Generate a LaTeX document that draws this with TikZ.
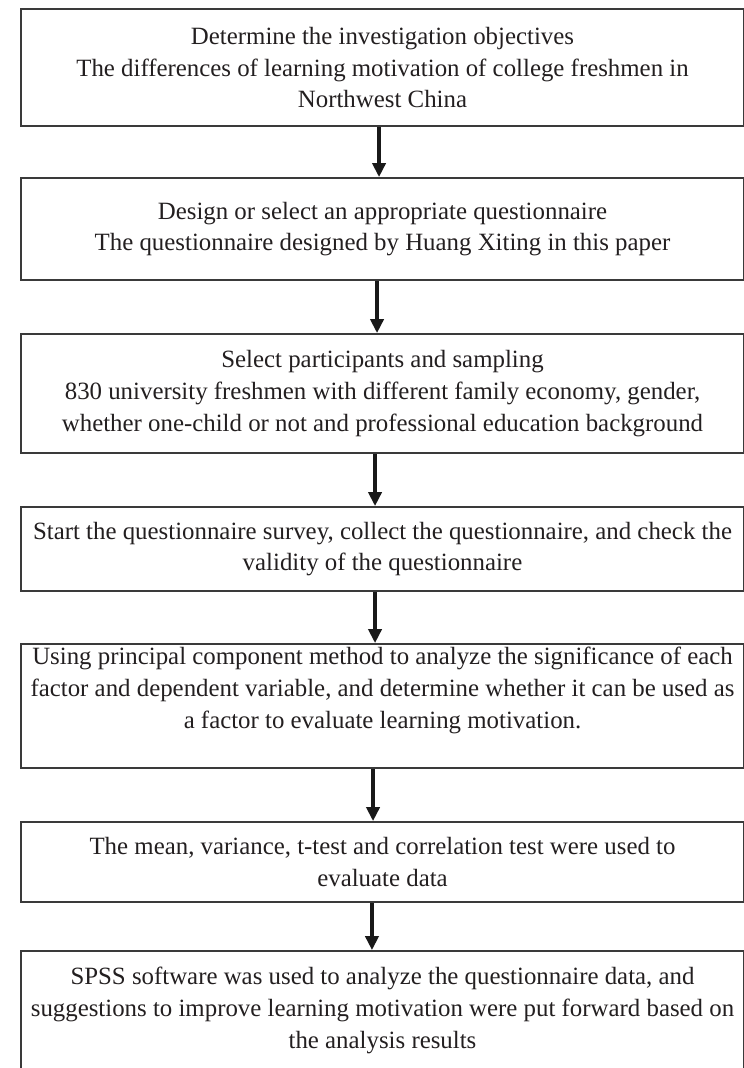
\documentclass[tikz,border=0pt]{standalone}
\usepackage{fontspec}
\setmainfont{Liberation Serif}
\usetikzlibrary{arrows.meta}
\definecolor{boxline}{HTML}{3A3A3A}
\definecolor{inktext}{HTML}{231F20}
\begin{document}
\begin{tikzpicture}[x=0.75pt, y=-0.75pt,
   stepbox/.style={draw=boxline, line width=1.5pt, minimum width=542.25pt, inner sep=0pt,
     align=center, text=inktext, font=\fontsize{18.64pt}{23.8pt}\selectfont},
   flow_style/.style={draw=black!90, line width=2.4pt, -{Triangle[length=10.5pt,width=10pt]}}]
	\useasboundingbox (0,0) rectangle (743,1068);
	\node [stepbox, minimum height=87.75pt] (s1) at (382.5,67.5) {Determine the investigation objectives\\The differences of learning motivation of college freshmen in\\Northwest China};
	\node [stepbox, minimum height=76.5pt] (s2) at (382.5,229) {Design or select an appropriate questionnaire\\The questionnaire designed by Huang Xiting in this paper};
	\node [stepbox, minimum height=89.25pt] (s3) at (382.5,393.5) {Select participants and sampling\\830 university freshmen with different family economy, gender,\\whether one-child or not and professional education background};
	\node [stepbox, minimum height=63pt] (s4) at (382.5,549) {Start the questionnaire survey, collect the questionnaire, and check the\\validity of the questionnaire};
	\node [stepbox, minimum height=93pt, text height=60pt, text depth=27pt] (s5) at (382.5,706) {Using principal component method to analyze the significance of each\\factor and dependent variable, and determine whether it can be used as\\a factor to evaluate learning motivation.};
	\node [stepbox, minimum height=60pt] (s6) at (382.5,862) {The mean, variance, t-test and correlation test were used to\\evaluate data};
	\node [stepbox, minimum height=89.25pt] (s7) at (382.5,1010.5) {SPSS software was used to analyze the questionnaire data, and\\suggestions to improve learning motivation were put forward based on\\the analysis results};

	\foreach \from/\to/\dx in {
		s1/s2/-2.6pt,
		s2/s3/-4.1pt,
		s3/s4/-5.6pt,
		s4/s5/-5.6pt,
		s5/s6/-7.1pt,
		s6/s7/-7.9pt
		}
	  \draw [flow_style] ([xshift=\dx]\from.south) -- ([xshift=\dx]\to.north);
\end{tikzpicture}
\end{document}
